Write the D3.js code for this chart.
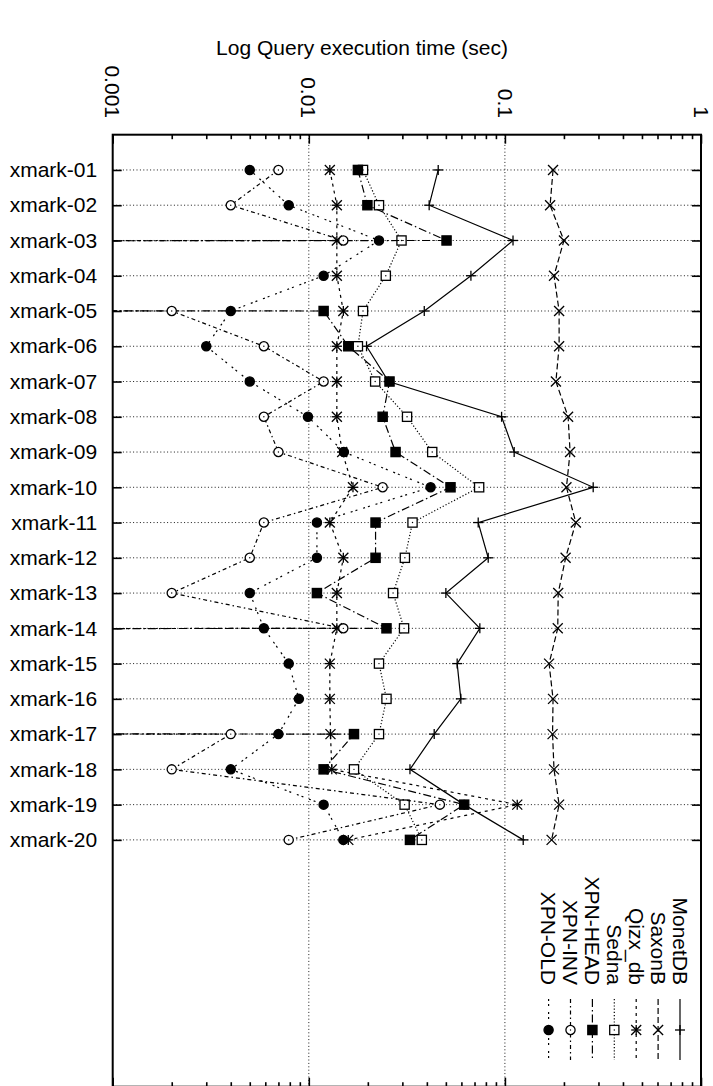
<!DOCTYPE html>
<html>
<head>
<meta charset="utf-8">
<script src="https://cdn.jsdelivr.net/npm/d3@7"></script>
<style>
  body { margin: 0; background: #fff; }
  svg { display: block; }
  text { font-family: "Liberation Sans", Arial, Helvetica, sans-serif; fill: #000; }
</style>
</head>
<body>
<svg id="chart" width="713" height="1086"></svg>
<script>
// XMark query execution times (seconds); 0 = no result for that query
const categories = ["xmark-01","xmark-02","xmark-03","xmark-04","xmark-05","xmark-06","xmark-07","xmark-08","xmark-09","xmark-10",
                    "xmark-11","xmark-12","xmark-13","xmark-14","xmark-15","xmark-16","xmark-17","xmark-18","xmark-19","xmark-20"];
const monetdb = [0.0457,0.0411,0.110,0.0671,0.0388,0.0197,0.0255,0.0962,0.1115,0.282,0.0731,0.0822,0.050,0.0745,0.0571,0.0596,0.0436,0.0328,0.062,0.124];
const saxonb  = [0.176,0.170,0.200,0.178,0.189,0.189,0.182,0.210,0.215,0.206,0.230,0.204,0.187,0.186,0.168,0.176,0.175,0.178,0.189,0.173];
const qizx    = [0.0128,0.0139,0.0139,0.0139,0.0150,0.0139,0.0139,0.0139,0.0148,0.0168,0.0128,0.0150,0.0139,0.0139,0.0128,0.0128,0.0129,0.0131,0.1156,0.0159];
const sedna   = [0.0189,0.0228,0.0297,0.0247,0.0189,0.0178,0.0218,0.0317,0.0426,0.0739,0.0338,0.0309,0.0269,0.0306,0.0228,0.0249,0.0228,0.0170,0.0308,0.0377];
const xpnHead = [0.0178,0.0199,0.0504,0,0.0119,0.0159,0.0258,0.0238,0.0277,0.0528,0.0219,0.0219,0.0110,0.0249,0,0,0.0170,0.0119,0.062,0.0328];
const xpnInv  = [0.0070,0.0040,0.0150,0,0.0020,0.0059,0.0119,0.0059,0.0070,0.0238,0.0059,0.0050,0.0020,0.0150,0,0,0.0040,0.0020,0.0466,0.0079];
const xpnOld  = [0.0050,0.0079,0.0228,0.0119,0.0040,0.0030,0.0050,0.0099,0.0151,0.0418,0.0110,0.0110,0.0050,0.0059,0.0079,0.0089,0.0070,0.0040,0.0119,0.0150];

const seriesNames = ["MonetDB","SaxonB","Qizx_db","Sedna","XPN-HEAD","XPN-INV","XPN-OLD"];
const seriesValues = [monetdb, saxonb, qizx, sedna, xpnHead, xpnInv, xpnOld];
const timeTicks = [0.001, 0.01, 0.1, 1];
const timeTickLabels = ["0.001", "0.01", "0.1", "1"];
const axisTitle = "Log Query execution time (sec)";

// line / point style per series
const styles = [
  { dash: null,            point: "plus" },
  { dash: "6,3",           point: "cross" },
  { dash: "3,4",           point: "star" },
  { dash: "1.2,2",         point: "box" },
  { dash: "8,3,1.5,3",     point: "fbox" },
  { dash: "4,3,1.5,3",     point: "circle" },
  { dash: "2,3,2,6",       point: "fcircle" }
];

const svg = d3.select("#chart");
const FS = 21;
const plot = { left: 112.7, right: 701, top: 134.7, bottom: 1086.7 };

const x = d3.scaleLog().domain([0.001, 1]).range([plot.left, plot.right]);
const y = d3.scaleLinear().domain([0, 27]).range([plot.top, plot.bottom]);
const xv = v => x(Math.max(v, 1e-200));   // zero values fall far off the left edge

svg.append("defs").append("clipPath").attr("id", "plotclip")
  .append("rect")
  .attr("x", plot.left).attr("y", plot.top)
  .attr("width", plot.right - plot.left).attr("height", plot.bottom - plot.top);

// grid
const grid = svg.append("g").attr("stroke", "#000").attr("stroke-width", 0.9)
  .attr("stroke-dasharray", "1,2.4").attr("fill", "none");
grid.selectAll("line.h").data(d3.range(1, categories.length + 1)).join("line")
  .attr("x1", plot.left).attr("x2", plot.right)
  .attr("y1", d => y(d)).attr("y2", d => y(d));
grid.selectAll("line.v").data(timeTicks.slice(1, -1)).join("line")
  .attr("x1", d => x(d)).attr("x2", d => x(d))
  .attr("y1", plot.top).attr("y2", plot.bottom);

// minor ticks 2..9 within each decade
const minorTicks = [];
timeTicks.slice(0, -1).forEach(t => { for (let k = 2; k <= 9; k++) minorTicks.push(t * k); });

function styleAxis(g) {
  g.select(".domain").remove();
  g.selectAll(".tick line").attr("stroke", "#000").attr("stroke-width", 1.6);
}
svg.append("g").attr("transform", `translate(0,${plot.top})`)
  .call(d3.axisTop(x).tickValues(timeTicks).tickSize(-9).tickFormat("")).call(styleAxis);
svg.append("g").attr("transform", `translate(0,${plot.top})`)
  .call(d3.axisTop(x).tickValues(minorTicks).tickSize(-4.5).tickFormat("")).call(styleAxis);
svg.append("g").attr("transform", `translate(0,${plot.bottom})`)
  .call(d3.axisBottom(x).tickValues(timeTicks).tickSize(-9).tickFormat("")).call(styleAxis);
svg.append("g").attr("transform", `translate(0,${plot.bottom})`)
  .call(d3.axisBottom(x).tickValues(minorTicks).tickSize(-4.5).tickFormat("")).call(styleAxis);

const leftAxis = svg.append("g").attr("transform", `translate(${plot.left},0)`)
  .call(d3.axisLeft(y).tickValues(d3.range(1, categories.length + 1)).tickSize(-9).tickPadding(15.5)
    .tickFormat(i => categories[i - 1]))
  .call(styleAxis);
leftAxis.selectAll(".tick text").attr("font-size", FS)
  .attr("font-family", "'Liberation Sans', Arial, sans-serif").attr("fill", "#000");
svg.append("g").attr("transform", `translate(${plot.right},0)`)
  .call(d3.axisRight(y).tickValues(d3.range(1, categories.length + 1)).tickSize(-9).tickFormat(""))
  .call(styleAxis);

// rotated time labels above the frame
svg.append("g").selectAll("text").data(timeTicks).join("text")
  .attr("transform", d => `translate(${x(d)},118) rotate(90)`)
  .attr("text-anchor", "end").attr("dy", "0.35em").attr("font-size", FS)
  .text((d, i) => timeTickLabels[i]);

svg.append("text").attr("x", 362).attr("y", 55).attr("text-anchor", "middle")
  .attr("font-size", FS).text(axisTitle);

// frame
svg.append("rect").attr("x", plot.left).attr("y", plot.top)
  .attr("width", plot.right - plot.left).attr("height", plot.bottom - plot.top)
  .attr("fill", "none").attr("stroke", "#000").attr("stroke-width", 2);

// point symbols
function drawPoint(g, type, cx, cy) {
  const s = 5, b = 4.6, r = 4.6;
  const p = g.append("g").attr("transform", `translate(${cx},${cy})`)
    .attr("stroke", "#000").attr("stroke-width", 1.3).attr("fill", "none");
  const seg = (x1, y1, x2, y2) => p.append("line").attr("x1", x1).attr("y1", y1).attr("x2", x2).attr("y2", y2);
  if (type === "plus" || type === "star") { seg(-s, 0, s, 0); seg(0, -s, 0, s); }
  if (type === "cross" || type === "star") { seg(-s, -s, s, s); seg(-s, s, s, -s); }
  if (type === "box" || type === "fbox") {
    p.append("rect").attr("x", -b).attr("y", -b).attr("width", 2 * b).attr("height", 2 * b)
      .attr("fill", type === "fbox" ? "#000" : "#fff");
  }
  if (type === "circle" || type === "fcircle") {
    p.append("circle").attr("r", r).attr("fill", type === "fcircle" ? "#000" : "#fff");
  }
  if (type === "box" || type === "circle") {
    p.append("circle").attr("r", 0.7).attr("fill", "#000").attr("stroke", "none");
  }
}

// series: lines clipped to the frame, then points
const line = d3.line().x(d => xv(d.v)).y(d => y(d.i + 1));
seriesValues.forEach((vals, k) => {
  const pts = vals.map((v, i) => ({ v, i }));
  const g = svg.append("g");
  g.append("path").datum(pts).attr("d", line)
    .attr("clip-path", "url(#plotclip)")
    .attr("fill", "none").attr("stroke", "#000").attr("stroke-width", 1.2)
    .attr("stroke-dasharray", styles[k].dash);
  pts.filter(d => d.v > 0).forEach(d => drawPoint(g, styles[k].point, xv(d.v), y(d.i + 1)));
});

// legend, one rotated column per series
const legend = svg.append("g");
seriesNames.forEach((name, k) => {
  const cx = 680 - k * 21.9;
  legend.append("text")
    .attr("transform", `translate(${cx},985) rotate(90)`)
    .attr("text-anchor", "end").attr("dy", "0.35em").attr("font-size", FS)
    .text(name);
  legend.append("line").attr("x1", cx).attr("x2", cx).attr("y1", 999).attr("y2", 1060)
    .attr("stroke", "#000").attr("stroke-width", 1.2).attr("stroke-dasharray", styles[k].dash);
  drawPoint(legend, styles[k].point, cx, 1030);
});
</script>
</body>
</html>
